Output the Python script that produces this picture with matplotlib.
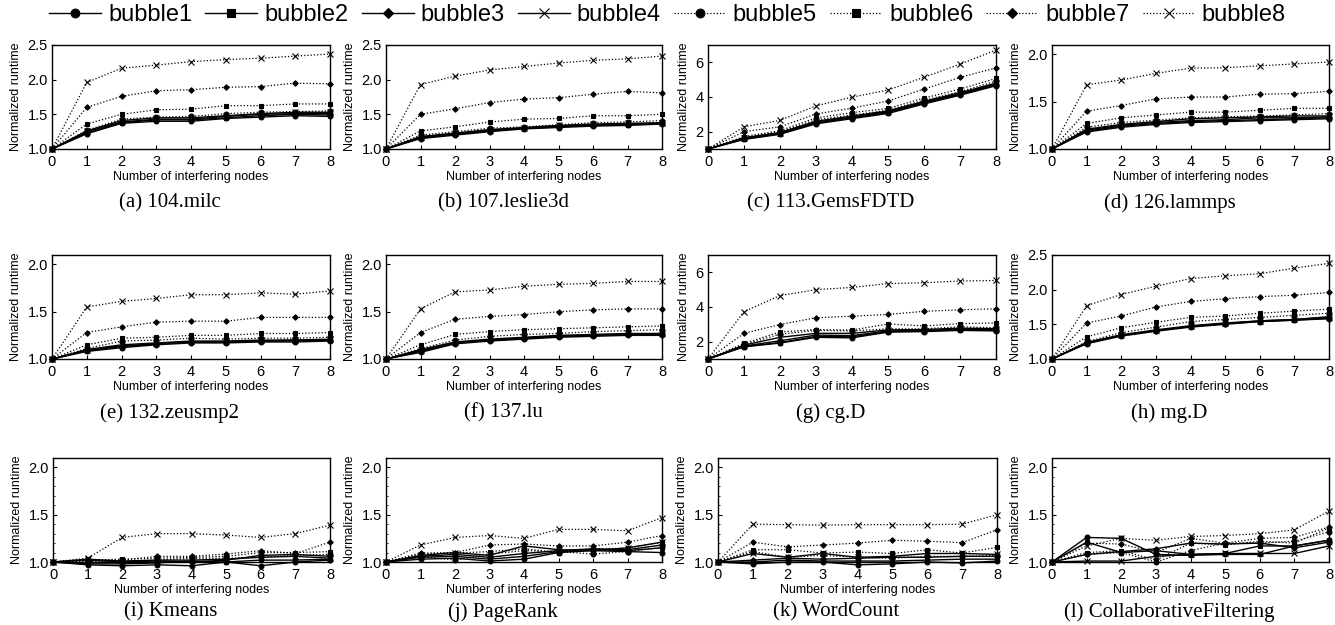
import matplotlib
matplotlib.use('Agg')
import matplotlib.pyplot as plt
from matplotlib.ticker import MultipleLocator, FormatStrFormatter

nodes = [0, 1, 2, 3, 4, 5, 6, 7, 8]
series_names = ['bubble1', 'bubble2', 'bubble3', 'bubble4',
                'bubble5', 'bubble6', 'bubble7', 'bubble8']
markers = ['o', 's', 'D', 'x', 'o', 's', 'D', 'x']

# one list per bubble size, bubble1 .. bubble8
milc = [
    [1.0, 1.22, 1.37, 1.40, 1.40, 1.44, 1.46, 1.48, 1.47],
    [1.0, 1.23, 1.38, 1.42, 1.42, 1.45, 1.48, 1.50, 1.49],
    [1.0, 1.25, 1.39, 1.43, 1.43, 1.47, 1.50, 1.51, 1.51],
    [1.0, 1.26, 1.41, 1.45, 1.45, 1.48, 1.51, 1.53, 1.53],
    [1.0, 1.27, 1.43, 1.46, 1.47, 1.51, 1.53, 1.54, 1.55],
    [1.0, 1.36, 1.50, 1.565, 1.575, 1.625, 1.625, 1.65, 1.65],
    [1.0, 1.60, 1.76, 1.84, 1.855, 1.89, 1.90, 1.95, 1.94],
    [1.0, 1.96, 2.165, 2.21, 2.26, 2.29, 2.31, 2.34, 2.37],
]
leslie3d = [
    [1.0, 1.15, 1.20, 1.25, 1.29, 1.31, 1.33, 1.34, 1.36],
    [1.0, 1.16, 1.21, 1.26, 1.30, 1.32, 1.34, 1.35, 1.37],
    [1.0, 1.17, 1.22, 1.27, 1.30, 1.33, 1.35, 1.36, 1.37],
    [1.0, 1.18, 1.23, 1.28, 1.31, 1.34, 1.36, 1.37, 1.38],
    [1.0, 1.20, 1.25, 1.30, 1.32, 1.35, 1.38, 1.39, 1.41],
    [1.0, 1.26, 1.32, 1.39, 1.43, 1.44, 1.48, 1.48, 1.50],
    [1.0, 1.50, 1.58, 1.67, 1.72, 1.74, 1.79, 1.83, 1.81],
    [1.0, 1.93, 2.05, 2.14, 2.19, 2.24, 2.28, 2.30, 2.34],
]
gemsfdtd = [
    [1.0, 1.55, 1.85, 2.45, 2.75, 3.05, 3.60, 4.10, 4.65],
    [1.0, 1.58, 1.88, 2.50, 2.80, 3.10, 3.65, 4.15, 4.70],
    [1.0, 1.62, 1.92, 2.55, 2.85, 3.15, 3.70, 4.20, 4.75],
    [1.0, 1.65, 1.95, 2.60, 2.90, 3.20, 3.75, 4.25, 4.80],
    [1.0, 1.65, 2.00, 2.68, 2.96, 3.23, 3.81, 4.31, 4.91],
    [1.0, 1.72, 2.06, 2.79, 3.10, 3.34, 3.94, 4.46, 5.07],
    [1.0, 2.00, 2.28, 3.02, 3.36, 3.77, 4.46, 5.13, 5.68],
    [1.0, 2.28, 2.65, 3.49, 3.99, 4.40, 5.14, 5.89, 6.71],
]
lammps = [
    [1.0, 1.18, 1.23, 1.26, 1.28, 1.29, 1.30, 1.31, 1.32],
    [1.0, 1.19, 1.24, 1.27, 1.29, 1.30, 1.31, 1.32, 1.33],
    [1.0, 1.20, 1.25, 1.28, 1.30, 1.31, 1.33, 1.33, 1.34],
    [1.0, 1.21, 1.26, 1.29, 1.32, 1.33, 1.34, 1.35, 1.35],
    [1.0, 1.23, 1.28, 1.305, 1.33, 1.34, 1.35, 1.36, 1.375],
    [1.0, 1.27, 1.33, 1.36, 1.39, 1.39, 1.41, 1.43, 1.43],
    [1.0, 1.40, 1.46, 1.53, 1.55, 1.55, 1.58, 1.585, 1.61],
    [1.0, 1.68, 1.73, 1.80, 1.855, 1.86, 1.88, 1.90, 1.92],
]
zeusmp2 = [
    [1.0, 1.08, 1.12, 1.15, 1.17, 1.17, 1.18, 1.18, 1.19],
    [1.0, 1.09, 1.13, 1.16, 1.18, 1.18, 1.19, 1.19, 1.20],
    [1.0, 1.09, 1.14, 1.16, 1.18, 1.18, 1.19, 1.20, 1.20],
    [1.0, 1.10, 1.15, 1.17, 1.19, 1.19, 1.20, 1.20, 1.21],
    [1.0, 1.11, 1.19, 1.20, 1.22, 1.21, 1.22, 1.22, 1.23],
    [1.0, 1.15, 1.22, 1.23, 1.25, 1.25, 1.27, 1.27, 1.28],
    [1.0, 1.28, 1.34, 1.39, 1.40, 1.40, 1.44, 1.44, 1.44],
    [1.0, 1.55, 1.61, 1.64, 1.68, 1.68, 1.70, 1.685, 1.72],
]
lu = [
    [1.0, 1.07, 1.16, 1.19, 1.21, 1.23, 1.24, 1.25, 1.25],
    [1.0, 1.08, 1.17, 1.20, 1.22, 1.24, 1.25, 1.26, 1.26],
    [1.0, 1.09, 1.17, 1.20, 1.22, 1.24, 1.25, 1.26, 1.27],
    [1.0, 1.10, 1.18, 1.21, 1.23, 1.25, 1.26, 1.27, 1.27],
    [1.0, 1.11, 1.20, 1.24, 1.26, 1.27, 1.29, 1.30, 1.31],
    [1.0, 1.15, 1.26, 1.29, 1.31, 1.32, 1.33, 1.34, 1.35],
    [1.0, 1.28, 1.42, 1.45, 1.47, 1.50, 1.52, 1.53, 1.53],
    [1.0, 1.53, 1.71, 1.73, 1.77, 1.79, 1.80, 1.82, 1.82],
]
cg = [
    [1.0, 1.70, 1.92, 2.25, 2.22, 2.55, 2.58, 2.65, 2.62],
    [1.0, 1.72, 1.95, 2.30, 2.28, 2.58, 2.62, 2.68, 2.66],
    [1.0, 1.75, 2.05, 2.38, 2.35, 2.62, 2.65, 2.72, 2.70],
    [1.0, 1.80, 2.25, 2.48, 2.48, 2.68, 2.70, 2.78, 2.75],
    [1.0, 1.83, 2.43, 2.65, 2.62, 2.74, 2.74, 2.86, 2.80],
    [1.0, 1.90, 2.56, 2.70, 2.67, 3.02, 2.91, 3.04, 3.08],
    [1.0, 2.48, 2.99, 3.38, 3.47, 3.57, 3.75, 3.84, 3.90],
    [1.0, 3.73, 4.66, 5.00, 5.13, 5.35, 5.40, 5.50, 5.53],
]
mg = [
    [1.0, 1.22, 1.33, 1.40, 1.46, 1.50, 1.54, 1.56, 1.58],
    [1.0, 1.23, 1.34, 1.41, 1.47, 1.51, 1.54, 1.56, 1.59],
    [1.0, 1.23, 1.34, 1.41, 1.47, 1.51, 1.55, 1.57, 1.60],
    [1.0, 1.24, 1.35, 1.42, 1.48, 1.52, 1.55, 1.57, 1.61],
    [1.0, 1.25, 1.38, 1.46, 1.54, 1.57, 1.60, 1.63, 1.66],
    [1.0, 1.32, 1.45, 1.53, 1.60, 1.62, 1.66, 1.69, 1.72],
    [1.0, 1.52, 1.62, 1.75, 1.83, 1.87, 1.90, 1.92, 1.96],
    [1.0, 1.77, 1.93, 2.05, 2.16, 2.20, 2.23, 2.31, 2.38],
]
kmeans = [
    [1.0, 0.97, 0.96, 0.97, 0.96, 1.00, 0.96, 1.00, 1.02],
    [1.0, 0.98, 0.98, 0.99, 1.01, 1.00, 1.02, 1.02, 1.03],
    [1.0, 1.02, 1.00, 1.01, 1.00, 1.02, 1.07, 1.08, 1.06],
    [1.0, 1.03, 1.01, 1.02, 1.02, 1.03, 1.05, 1.06, 1.04],
    [1.0, 1.01, 1.01, 1.02, 1.04, 1.04, 1.05, 1.07, 1.08],
    [1.0, 1.02, 1.03, 1.04, 1.05, 1.06, 1.10, 1.10, 1.11],
    [1.0, 1.01, 1.02, 1.06, 1.06, 1.085, 1.12, 1.09, 1.21],
    [1.0, 1.04, 1.26, 1.30, 1.30, 1.285, 1.26, 1.30, 1.39],
]
pagerank = [
    [1.0, 1.03, 1.04, 1.01, 1.03, 1.10, 1.12, 1.11, 1.10],
    [1.0, 1.05, 1.06, 1.03, 1.06, 1.11, 1.13, 1.12, 1.15],
    [1.0, 1.06, 1.08, 1.05, 1.09, 1.12, 1.14, 1.13, 1.18],
    [1.0, 1.07, 1.10, 1.07, 1.17, 1.13, 1.12, 1.15, 1.21],
    [1.0, 1.06, 1.02, 1.085, 1.12, 1.11, 1.085, 1.11, 1.155],
    [1.0, 1.085, 1.095, 1.11, 1.14, 1.10, 1.14, 1.145, 1.21],
    [1.0, 1.095, 1.10, 1.18, 1.19, 1.17, 1.17, 1.21, 1.28],
    [1.0, 1.18, 1.26, 1.28, 1.25, 1.345, 1.345, 1.33, 1.47],
]
wordcount = [
    [1.0, 0.98, 1.00, 1.00, 0.97, 0.98, 1.00, 0.99, 1.01],
    [1.0, 1.00, 1.02, 1.01, 1.01, 1.01, 1.02, 1.03, 1.03],
    [1.0, 1.02, 1.04, 1.03, 1.04, 1.05, 1.05, 1.06, 1.06],
    [1.0, 1.09, 1.05, 1.09, 1.05, 1.06, 1.09, 1.09, 1.08],
    [1.0, 1.11, 1.05, 1.07, 1.05, 1.04, 1.06, 1.06, 1.07],
    [1.0, 1.13, 1.13, 1.095, 1.105, 1.09, 1.13, 1.095, 1.155],
    [1.0, 1.21, 1.16, 1.18, 1.20, 1.23, 1.22, 1.205, 1.34],
    [1.0, 1.40, 1.395, 1.39, 1.395, 1.395, 1.395, 1.40, 1.50],
]
collab = [
    [1.0, 1.26, 1.25, 1.08, 1.07, 1.08, 1.08, 1.17, 1.23],
    [1.0, 1.21, 1.10, 1.12, 1.08, 1.09, 1.17, 1.17, 1.23],
    [1.0, 1.08, 1.11, 1.14, 1.20, 1.19, 1.20, 1.15, 1.21],
    [1.0, 1.01, 1.01, 1.06, 1.08, 1.09, 1.09, 1.09, 1.17],
    [1.0, 1.08, 1.10, 1.00, 1.12, 1.20, 1.20, 1.22, 1.32],
    [1.0, 1.10, 1.12, 1.02, 1.20, 1.18, 1.22, 1.20, 1.36],
    [1.0, 1.20, 1.19, 1.10, 1.25, 1.20, 1.25, 1.26, 1.37],
    [1.0, 1.17, 1.25, 1.23, 1.27, 1.28, 1.30, 1.34, 1.54],
]

W, H = 1335, 625

# caption, data, ylim, major tick step, axes box in pixels (left, right, top, bottom)
panels = [
    ('(a) 104.milc', milc, (1.0, 2.5), 0.5, (52, 330, 45, 149)),
    ('(b) 107.leslie3d', leslie3d, (1.0, 2.5), 0.5, (386, 662, 45, 149)),
    ('(c) 113.GemsFDTD', gemsfdtd, (1.0, 7.0), 2, (708, 996, 45, 149)),
    ('(d) 126.lammps', lammps, (1.0, 2.1), 0.5, (1052, 1329, 45, 149)),
    ('(e) 132.zeusmp2', zeusmp2, (1.0, 2.1), 0.5, (52, 330, 255, 359)),
    ('(f) 137.lu', lu, (1.0, 2.1), 0.5, (386, 662, 255, 359)),
    ('(g) cg.D', cg, (1.0, 7.0), 2, (708, 996, 255, 359)),
    ('(h) mg.D', mg, (1.0, 2.5), 0.5, (1052, 1329, 255, 359)),
    ('(i) Kmeans', kmeans, (1.0, 2.1), 0.5, (53, 330, 458, 562)),
    ('(j) PageRank', pagerank, (1.0, 2.1), 0.5, (386, 662, 458, 562)),
    ('(k) WordCount', wordcount, (1.0, 2.1), 0.5, (718, 997, 458, 562)),
    ('(l) CollaborativeFiltering', collab, (1.0, 2.1), 0.5, (1052, 1329, 458, 562)),
]

plt.rcParams['font.family'] = ['Liberation Sans', 'DejaVu Sans']

fig = plt.figure(figsize=(W / 100, H / 100), dpi=100)

for idx, (caption, data, ylim, step, box) in enumerate(panels):
    left, right, top, bottom = box
    ax = fig.add_axes([left / W, 1 - bottom / H, (right - left) / W, (bottom - top) / H])
    for i, vals in enumerate(data):
        ls = '-' if i < 4 else (0, (1, 1.6))
        lw = 1.0 if i < 4 else 0.9
        ms = 3.5 if markers[i] != 'x' else 4
        if markers[i] == 'D':
            ms = 2.8
        if markers[i] == 's':
            ms = 3.0
        ax.plot(nodes, vals, color='black', linestyle=ls, linewidth=lw,
                marker=markers[i], markersize=ms, markeredgewidth=0.8,
                label=series_names[i], clip_on=False, zorder=3)
    ax.set_xlim(0, 8)
    ax.set_ylim(*ylim)
    ax.xaxis.set_major_locator(MultipleLocator(1))
    ax.yaxis.set_major_locator(MultipleLocator(step))
    if step == 0.5:
        ax.yaxis.set_major_formatter(FormatStrFormatter('%.1f'))
    else:
        ax.yaxis.set_major_formatter(FormatStrFormatter('%d'))
    if idx >= 8:
        ax.yaxis.set_minor_locator(MultipleLocator(0.1))
    ax.tick_params(direction='in', length=3, width=0.8, labelsize=10.5, pad=3)
    ax.tick_params(axis='x', pad=4)
    ax.tick_params(which='minor', direction='in', length=1.5, width=0.6)
    for sp in ax.spines.values():
        sp.set_linewidth(1.0)
    ax.set_xlabel('Number of interfering nodes', fontsize=9, labelpad=2)
    ax.set_ylabel('Normalized runtime', fontsize=9, labelpad=4)
    cx = (left - 42 + right) / 2
    cy = bottom + (50 if idx >= 8 else 54)
    fig.text(cx / W, 1 - cy / H, caption, ha='center', va='center',
             fontsize=15, family=['Liberation Serif', 'DejaVu Serif'])
    if idx == 0:
        handles, labels = ax.get_legend_handles_labels()

fig.legend(handles, labels, loc='center', ncol=8, frameon=False,
           bbox_to_anchor=(0.5, 1 - 15 / H), fontsize=17, handlelength=2.2,
           handletextpad=0.3, columnspacing=0.55, markerscale=1.8,
           borderaxespad=0)

fig.savefig('out.png', dpi=100)
